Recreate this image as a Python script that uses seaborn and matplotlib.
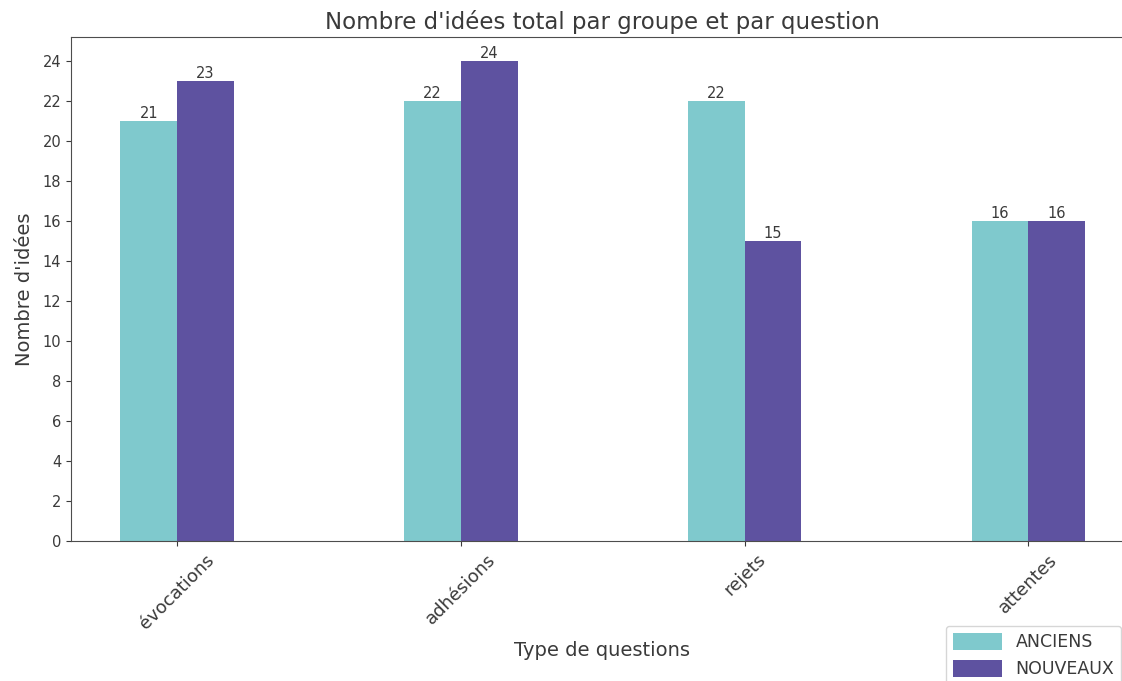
import pandas as pd
import matplotlib
matplotlib.use('Agg')
import matplotlib.pyplot as plt
import seaborn as sns

# Data
questions = ['évocations', 'adhésions', 'rejets', 'attentes']
anciens = [21, 22, 22, 16]
nouveaux = [23, 24, 15, 16]
groups = ['ANCIENS', 'NOUVEAUX']
palette = ['#7fc9cd', '#5e52a0']

df = pd.DataFrame({
    'question': questions * 2,
    'groupe': [groups[0]] * len(questions) + [groups[1]] * len(questions),
    'idees': anciens + nouveaux,
})

sns.set_style('ticks')
plt.rcParams['font.family'] = ['DejaVu Sans']
text_col = '#3a3a3a'
plt.rcParams['text.color'] = text_col
plt.rcParams['axes.labelcolor'] = text_col
plt.rcParams['xtick.color'] = text_col
plt.rcParams['ytick.color'] = text_col
plt.rcParams['axes.edgecolor'] = '#4d4d4d'

fig = plt.figure(figsize=(11.22, 6.81), dpi=100)
ax = fig.add_axes([71 / 1122, 1 - 541 / 681, (1133 - 71) / 1122, (541 - 37) / 681])

sns.barplot(data=df, x='question', y='idees', hue='groupe', palette=palette,
            width=0.4, saturation=1, linewidth=0, ax=ax)

for cont in ax.containers:
    ax.bar_label(cont, fontsize=10.5, color=text_col, padding=0)

ax.set_xlim(-0.374, 3.369)
ax.set_ylim(0, 25.2)
ax.set_yticks(range(0, 25, 2))
ax.tick_params(axis='y', labelsize=10.5)
ax.tick_params(axis='x', labelsize=13)
plt.setp(ax.get_xticklabels(), rotation=45, ha='center', rotation_mode='default')

ax.set_title("Nombre d'idées total par groupe et par question", fontsize=16.5, pad=6)
ax.set_xlabel('Type de questions', fontsize=14, labelpad=6)
ax.set_ylabel("Nombre d'idées", fontsize=14, labelpad=6)

ax.legend(loc='upper left', bbox_to_anchor=(946 / 1122, 1 - 626 / 681),
          bbox_transform=fig.transFigure, fontsize=12.5, frameon=True,
          borderaxespad=0, handlelength=2.8, handleheight=1.1)

fig.savefig('out.png', dpi=100)
